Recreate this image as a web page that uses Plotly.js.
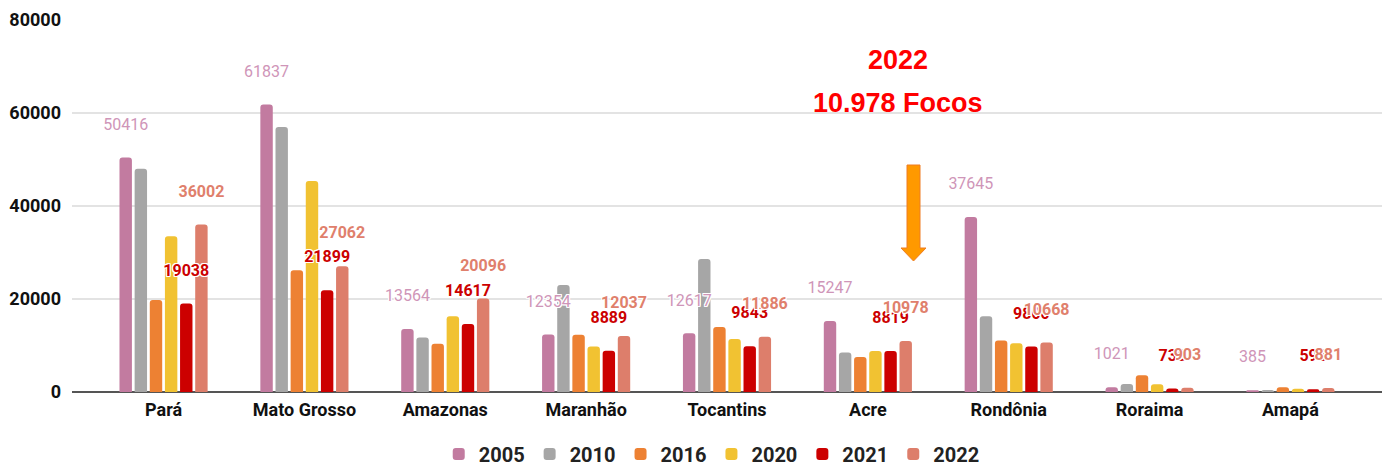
<!DOCTYPE html>
<html>
<head>
<meta charset="utf-8">
<script src="https://cdn.plot.ly/plotly-3.0.1.min.js"></script>
<style>html,body{margin:0;padding:0;background:#fff;}#chart{width:1382px;height:468px;}</style>
</head>
<body>
<div id="chart"></div>
<script>
const categories = ["Pará", "Mato Grosso", "Amazonas", "Maranhão", "Tocantins", "Acre", "Rondônia", "Roraima", "Amapá"];
const years = ["2005", "2010", "2016", "2020", "2021", "2022"];
const v2005 = [50416, 61837, 13564, 12354, 12617, 15247, 37645, 1021, 385];
const v2010 = [48000, 57000, 11700, 23000, 28600, 8500, 16300, 1700, 430];
const v2016 = [19800, 26200, 10400, 12300, 14000, 7500, 11100, 3600, 1000];
const v2020 = [33500, 45400, 16300, 9800, 11400, 8800, 10500, 1650, 700];
const v2021 = [19038, 21899, 14617, 8889, 9843, 8819, 9800, 738, 595];
const v2022 = [36002, 27062, 20096, 12037, 11886, 10978, 10668, 903, 881];
const yTicks = [0, 20000, 40000, 60000, 80000];
const calloutLines = ["2022", "10.978 Focos"];

const seriesValues = [v2005, v2010, v2016, v2020, v2021, v2022];
const colors = ["#c27ba0", "#a6a6a6", "#ed8133", "#f1c232", "#cc0000", "#dd7e6b"];
const halo = "1px 1px 0 #fff, -1px -1px 0 #fff, 1px -1px 0 #fff, -1px 1px 0 #fff, 0 1px 0 #fff, 0 -1px 0 #fff, 1px 0 0 #fff, -1px 0 0 #fff";

const traces = years.map((yr, i) => ({
  type: "bar",
  name: yr,
  x: categories,
  y: seriesValues[i],
  offsetgroup: yr,
  marker: {color: colors[i], cornerradius: 3},
  hoverinfo: "skip"
}));

// label overlay traces (drawn on top of all bars)
const labelSpec = [
  {idx: 0, color: "#cf95b8", weight: "normal"},
  {idx: 4, color: "#cc0000", weight: "bold"},
  {idx: 5, color: "#e0806c", weight: "bold"}
];
labelSpec.forEach(s => {
  traces.push({
    type: "bar",
    name: years[s.idx] + " labels",
    x: categories,
    y: seriesValues[s.idx],
    offsetgroup: years[s.idx],
    showlegend: false,
    hoverinfo: "skip",
    marker: {color: "rgba(0,0,0,0)"},
    text: seriesValues[s.idx].map(v => String(v) + "<br> "),
    texttemplate: "%{text}",
    textposition: "outside",
    textangle: 0,
    constraintext: "none",
    cliponaxis: false,
    textfont: {family: "Roboto", size: 16, color: s.color, weight: s.weight, shadow: halo}
  });
});

const px = (p) => (p - 72) / 1310;
const py = (p) => (392 - p) / 372;

const layout = {
  width: 1382, height: 468,
  margin: {l: 72, r: 0, t: 20, b: 76},
  paper_bgcolor: "#fff", plot_bgcolor: "#fff",
  barmode: "group",
  bargap: 0.355,
  bargroupgap: 0.18,
  showlegend: true,
  legend: {
    orientation: "h", xref: "container", yref: "container",
    x: 0.515, xanchor: "center", y: 0.03, yanchor: "middle",
    font: {family: "Roboto", size: 20, color: "#222", weight: "bold"},
    itemwidth: 30, tracegroupgap: 0, traceorder: "normal"
  },
  xaxis: {
    type: "category",
    range: [-0.65, 8.65],
    showgrid: false, zeroline: false, showline: false,
    ticks: "",
    tickfont: {family: "Roboto", size: 18, color: "#111", weight: "bold"},
    ticklabelstandoff: 5
  },
  yaxis: {
    range: [0, 80000],
    tickvals: yTicks,
    ticktext: yTicks.map(String),
    showgrid: true, gridcolor: "#e3e3e3", gridwidth: 1.5,
    zeroline: true, zerolinecolor: "#555", zerolinewidth: 1.5,
    showline: false, ticks: "",
    tickfont: {family: "Roboto", size: 18, color: "#111", weight: "bold"},
    ticklabelstandoff: 10
  },
  shapes: [
    {type: "rect", xref: "paper", yref: "paper", x0: px(789), x1: px(1006), y0: py(118), y1: py(0) ,
     fillcolor: "#fff", line: {width: 0}, layer: "between"},
    {type: "path", xref: "paper", yref: "paper", layer: "above",
     path: `M ${px(907)} ${py(165)} L ${px(920)} ${py(165)} L ${px(920)} ${py(248)} L ${px(926)} ${py(248)} L ${px(913.5)} ${py(261)} L ${px(901)} ${py(248)} L ${px(907)} ${py(248)} Z`,
     fillcolor: "#ff9900", line: {color: "#ef7d22", width: 1}}
  ],
  annotations: [
    {xref: "paper", yref: "paper", x: px(898), y: py(60), xanchor: "center", yanchor: "middle",
     text: calloutLines[0], showarrow: false,
     font: {family: "Liberation Sans", size: 27, color: "#ff0000", weight: "bold"}},
    {xref: "paper", yref: "paper", x: px(898), y: py(103), xanchor: "center", yanchor: "middle",
     text: calloutLines[1], showarrow: false,
     font: {family: "Liberation Sans", size: 27, color: "#ff0000", weight: "bold"}}
  ]
};

Plotly.newPlot("chart", traces, layout, {displayModeBar: false, staticPlot: true});
</script>
</body>
</html>
